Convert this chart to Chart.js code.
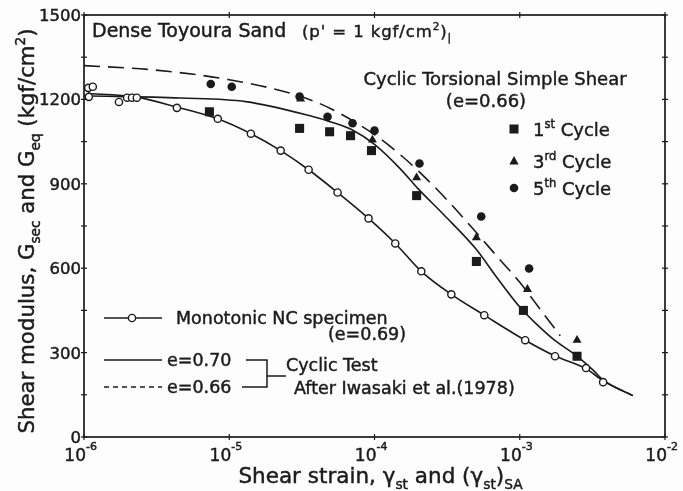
<!DOCTYPE html>
<html>
<head>
<meta charset="utf-8">
<script src="https://cdn.jsdelivr.net/npm/chart.js@4/dist/chart.umd.min.js"></script>
<style>
  html, body { margin: 0; padding: 0; background: #fdfdfd; }
  canvas { display: block; }
</style>
</head>
<body>
<canvas id="chart" width="683" height="491"></canvas>
<script>
// Shear strain (gamma) and shear modulus G (kgf/cm2)

// Monotonic NC specimen (e=0.69): measured points
const monoStrain = [1.02e-6, 1.07e-6, 1.15e-6, 1.08e-6, 1.74e-6, 1.98e-6, 2.14e-6, 2.31e-6, 4.36e-6, 8.34e-6, 1.41e-5, 2.26e-5, 3.52e-5, 5.57e-5, 9.1e-5, 1.39e-4, 2.1e-4, 3.38e-4, 5.7e-4, 1.09e-3, 1.75e-3, 2.86e-3, 3.75e-3];
const monoG      = [1227, 1241, 1245, 1209, 1191, 1206, 1206, 1206, 1170, 1131, 1078, 1018, 950, 869, 777, 688, 589, 507, 433, 344, 287, 245, 195];

// Monotonic NC specimen: fitted curve
const monoCurveStrain = [1e-6, 2.3e-6, 4.4e-6, 8.3e-6, 1.41e-5, 2.26e-5, 3.52e-5, 5.57e-5, 9.1e-5, 1.39e-4, 2.1e-4, 3.38e-4, 5.7e-4, 1.09e-3, 1.75e-3, 2.86e-3, 3.75e-3, 6e-3];
const monoCurveG      = [1222, 1208, 1172, 1131, 1078, 1018, 950, 869, 777, 688, 589, 507, 433, 344, 288, 243, 200, 147];

// Cyclic test curve, e=0.70
const cyc070Strain = [1e-6, 4.6e-6, 1.3e-5, 3.75e-5, 5e-5, 7e-5, 1e-4, 1.5e-4, 2e-4, 3e-4, 5e-4, 7e-4, 1e-3, 1.3e-3, 1.7e-3, 2.5e-3, 3.2e-3, 3.75e-3, 6e-3];
const cyc070G      = [1213, 1205, 1192, 1139, 1120, 1092, 1040, 954, 882, 790, 668, 565, 462, 402, 348, 286, 238, 202, 147];

// After Iwasaki et al. (1978), e=0.66
const iwasakiStrain = [1e-6, 3e-6, 1e-5, 3e-5, 5e-5, 1e-4, 1.5e-4, 2e-4, 3e-4, 5e-4, 7e-4, 1e-3, 1.4e-3, 1.9e-3];
const iwasakiG      = [1320, 1305, 1270, 1213, 1167, 1075, 1004, 946, 855, 728, 641, 550, 450, 360];

// Cyclic torsional simple shear (e=0.66)
const cycle1Strain = [7.3e-6, 3.05e-5, 4.91e-5, 6.84e-5, 9.53e-5, 1.95e-4, 5.03e-4, 1.06e-3, 2.48e-3];
const cycle1G      = [1156, 1097, 1085, 1071, 1018, 858, 624, 450, 287];
const cycle3Strain = [3.1e-5, 9.68e-5, 1.95e-4, 5.03e-4, 1.13e-3, 2.48e-3];
const cycle3G      = [1202, 1056, 922, 709, 525, 344];
const cycle5Strain = [7.46e-6, 1.04e-5, 3.05e-5, 4.75e-5, 7.06e-5, 1.0e-4, 2.04e-4, 5.43e-4, 1.16e-3];
const cycle5G      = [1255, 1245, 1210, 1138, 1115, 1089, 972, 784, 599];

// Axis ticks
const xTickValues = [1e-6, 1e-5, 1e-4, 1e-3, 1e-2];
const xTickExponents = ['-6', '-5', '-4', '-3', '-2'];
const yTickValues = [0, 300, 600, 900, 1200, 1500];
const yTickLabels = ['0', '300', '600', '900', '1200', '1500'];

const ink = '#1b1b1b';
const paper = '#fdfdfd';
const fam = '"DejaVu Sans", sans-serif';

const pts = (xs, ys) => xs.map((v, i) => ({ x: v, y: ys[i] }));

// Text with superscript / subscript runs; y is the baseline
function richText(ctx, parts, x, y, size, align, spacing) {
  ctx.save();
  ctx.letterSpacing = (spacing || 0) + 'px';
  const small = size * 0.64;
  const widths = parts.map(([t, m]) => {
    ctx.font = (m ? small : size) + 'px ' + fam;
    return ctx.measureText(t).width;
  });
  const total = widths.reduce((a, b) => a + b, 0);
  let cx = align === 'center' ? x - total / 2 : align === 'right' ? x - total : x;
  ctx.textAlign = 'left';
  ctx.textBaseline = 'alphabetic';
  ctx.fillStyle = ink;
  ctx.strokeStyle = ink;
  ctx.lineWidth = 0.45;
  parts.forEach(([t, m], i) => {
    ctx.font = (m ? small : size) + 'px ' + fam;
    const dy = m === 'sup' ? -size * 0.42 : m === 'sub' ? size * 0.26 : 0;
    ctx.fillText(t, cx, y + dy);
    ctx.strokeText(t, cx, y + dy);
    cx += widths[i];
  });
  ctx.restore();
}

function seg(ctx, x1, y1, x2, y2) {
  ctx.beginPath();
  ctx.moveTo(x1, y1);
  ctx.lineTo(x2, y2);
  ctx.stroke();
}

const background = {
  id: 'background',
  beforeDraw(chart) {
    const ctx = chart.ctx;
    ctx.save();
    ctx.fillStyle = paper;
    ctx.fillRect(0, 0, chart.width, chart.height);
    ctx.restore();
  }
};

const decor = {
  id: 'decor',
  afterDraw(chart) {
    const { ctx, chartArea: a } = chart;
    const xs = chart.scales.x, ys = chart.scales.y;
    ctx.save();
    ctx.strokeStyle = ink;

    // frame
    ctx.lineWidth = 1.7;
    ctx.strokeRect(a.left, a.top, a.right - a.left, a.bottom - a.top);

    // tick marks
    ctx.lineWidth = 1.2;
    ys.ticks.forEach(t => {
      const py = ys.getPixelForValue(t.value);
      seg(ctx, a.left - 3, py, a.left + 3, py);
      seg(ctx, a.right - 3, py, a.right + 3, py);
    });
    xTickValues.forEach(v => {
      const px = xs.getPixelForValue(v);
      seg(ctx, px, a.bottom - 3, px, a.bottom + 3);
      seg(ctx, px, a.top - 3, px, a.top + 3);
    });

    // y tick labels
    yTickValues.forEach((v, i) => {
      const py = ys.getPixelForValue(v);
      richText(ctx, [[yTickLabels[i], '']], a.left - 3, py + 6, 16.5, 'right');
    });

    // x tick labels: 10 with exponent
    xTickValues.forEach((v, i) => {
      const px = xs.getPixelForValue(v);
      richText(ctx, [['10', '']], px + 2, a.bottom + 24, 17, 'right');
      richText(ctx, [[xTickExponents[i], '']], px + 2, a.bottom + 13, 11, 'left');
    });

    // axis titles
    richText(ctx, [['Shear strain, γ', ''], ['st', 'sub'], [' and (γ', ''], ['st', 'sub'], [')', ''], ['SA', 'sub']],
      (a.left + a.right) / 2 + 6, a.bottom + 46, 21.5, 'center');
    ctx.save();
    ctx.translate(34, (a.top + a.bottom) / 2 + 5);
    ctx.rotate(-Math.PI / 2);
    richText(ctx, [['Shear modulus, G', ''], ['sec', 'sub'], [' and G', ''], ['eq', 'sub'], [' (kgf/cm', ''], ['2', 'sup'], [')', '']],
      0, 0, 21.3, 'center');
    ctx.restore();

    // heading
    richText(ctx, [['Dense Toyoura Sand', '']], a.left + 8, a.top + 22, 19, 'left');
    richText(ctx, [["(p' = 1 kgf/cm", ''], ['2', 'sup'], [')', ''], ['|', 'sub']], a.left + 218, a.top + 22, 16.5, 'left', 0.9);

    // cyclic torsional simple shear block
    richText(ctx, [['Cyclic Torsional Simple Shear', '']], a.left + 411, a.top + 70, 18, 'center');
    richText(ctx, [['(e=0.66)', '']], a.left + 402, a.top + 92, 18, 'center');

    const mx = a.left + 430, tx = a.left + 449;
    ctx.fillStyle = ink;
    // square
    let cy = a.top + 114;
    ctx.fillRect(mx - 4.5, cy - 4.5, 9, 9);
    richText(ctx, [['1', ''], ['st', 'sup'], [' Cycle', '']], tx, cy + 7, 18, 'left');
    // triangle
    cy = a.top + 146;
    ctx.beginPath();
    ctx.moveTo(mx, cy - 5);
    ctx.lineTo(mx + 4.6, cy + 3.5);
    ctx.lineTo(mx - 4.6, cy + 3.5);
    ctx.closePath();
    ctx.fill();
    richText(ctx, [['3', ''], ['rd', 'sup'], [' Cycle', '']], tx, cy + 7, 18, 'left');
    // circle
    cy = a.top + 173;
    ctx.beginPath();
    ctx.arc(mx, cy, 4.3, 0, Math.PI * 2);
    ctx.fill();
    richText(ctx, [['5', ''], ['th', 'sup'], [' Cycle', '']], tx, cy + 7, 18, 'left');

    // lower-left key
    const lx1 = a.left + 20, lx2 = a.left + 78;
    ctx.lineWidth = 1.6;
    let ly = 318;
    seg(ctx, lx1, ly, lx2, ly);
    ctx.beginPath();
    ctx.arc(a.left + 48, ly, 3.6, 0, Math.PI * 2);
    ctx.fillStyle = paper;
    ctx.fill();
    ctx.lineWidth = 1.4;
    ctx.stroke();
    richText(ctx, [['Monotonic NC specimen', '']], a.left + 92, ly + 6, 17.5, 'left');
    richText(ctx, [['(e=0.69)', '']], a.left + 244, ly + 22, 17.5, 'left');

    ly = 360;
    ctx.lineWidth = 1.6;
    seg(ctx, lx1, ly, lx2, ly);
    richText(ctx, [['e=0.70', '']], a.left + 83, ly + 6, 17.5, 'left');
    ly = 387;
    ctx.setLineDash([5, 4]);
    seg(ctx, lx1, ly, lx2, ly);
    ctx.setLineDash([]);
    richText(ctx, [['e=0.66', '']], a.left + 83, ly + 6, 17.5, 'left');

    // bracket joining the two curve keys
    ctx.lineWidth = 1.5;
    ctx.beginPath();
    ctx.moveTo(a.left + 162, 360);
    ctx.lineTo(a.left + 183, 360);
    ctx.lineTo(a.left + 183, 387);
    ctx.lineTo(a.left + 158, 387);
    ctx.stroke();
    seg(ctx, a.left + 183, 376, a.left + 202, 376);
    richText(ctx, [['Cyclic Test', '']], a.left + 202, 371, 17.5, 'left');
    richText(ctx, [['After Iwasaki et al.(1978)', '']], a.left + 210, 394, 17.5, 'left');

    ctx.restore();
  }
};

const curve = (data, extra) => Object.assign({
  data, showLine: true, pointRadius: 0, borderColor: ink, borderWidth: 1.6,
  cubicInterpolationMode: 'monotone', fill: false
}, extra || {});

new Chart(document.getElementById('chart'), {
  type: 'scatter',
  data: {
    datasets: [
      { label: 'Monotonic NC specimen', data: pts(monoStrain, monoG), pointStyle: 'circle', pointRadius: 3.6,
        pointBorderWidth: 1.4, pointBackgroundColor: paper, pointBorderColor: ink },
      { label: '1st Cycle', data: pts(cycle1Strain, cycle1G), pointStyle: 'rect', pointRadius: 6.4,
        pointBorderWidth: 0, pointBackgroundColor: ink, pointBorderColor: ink },
      { label: '3rd Cycle', data: pts(cycle3Strain, cycle3G), pointStyle: 'triangle', pointRadius: 5.2,
        pointBorderWidth: 0, pointBackgroundColor: ink, pointBorderColor: ink },
      { label: '5th Cycle', data: pts(cycle5Strain, cycle5G), pointStyle: 'circle', pointRadius: 4.3,
        pointBorderWidth: 0, pointBackgroundColor: ink, pointBorderColor: ink },
      curve(pts(monoCurveStrain, monoCurveG), { label: 'Monotonic curve' }),
      curve(pts(cyc070Strain, cyc070G), { label: 'e=0.70' }),
      curve(pts(iwasakiStrain, iwasakiG), { label: 'e=0.66', borderDash: [16, 8] })
    ]
  },
  options: {
    responsive: false,
    animation: false,
    devicePixelRatio: 1,
    layout: { autoPadding: false, padding: { left: 0, top: 15, right: 18, bottom: 0 } },
    plugins: { legend: { display: false }, tooltip: { enabled: false } },
    scales: {
      x: {
        type: 'logarithmic', min: 1e-6, max: 1e-2,
        grid: { display: false }, border: { display: false },
        ticks: { display: false },
        afterBuildTicks: s => { s.ticks = xTickValues.map(v => ({ value: v })); },
        afterFit: s => { s.height = 54; }
      },
      y: {
        min: 0, max: 1500,
        grid: { display: false }, border: { display: false },
        ticks: { display: false, stepSize: 150 },
        afterFit: s => { s.width = 84; }
      }
    }
  },
  plugins: [background, decor]
});
</script>
</body>
</html>
